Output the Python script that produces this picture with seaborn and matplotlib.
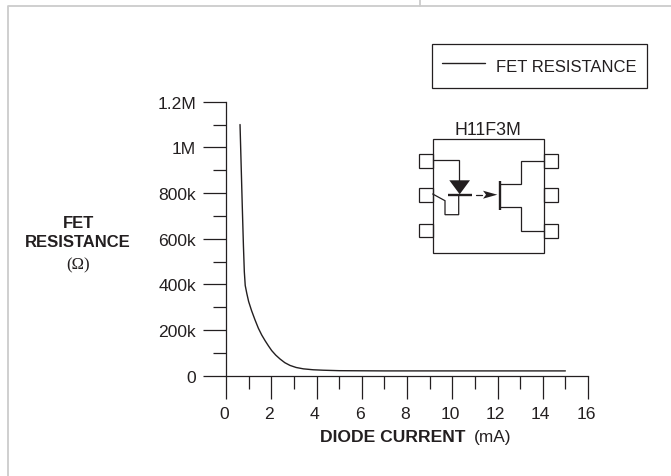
import pandas as pd
import matplotlib.pyplot as plt
import seaborn as sns
from matplotlib.transforms import ScaledTranslation

# values
current_ma = [0.62, 0.67, 0.72, 0.77, 0.81, 0.85, 0.92, 1.00, 1.13, 1.28, 1.43, 1.58, 1.73, 1.88, 2.02, 2.20, 2.39, 2.60, 2.83, 3.10, 3.42, 3.85, 4.30, 5.00, 7.00, 10.00, 13.00, 15.00]
resistance = [1100000, 920000, 740000, 570000, 455000, 395000, 360000, 325000, 285000, 245000, 208000, 178000, 153000, 130000, 110000, 90000, 73000, 57000, 45000, 36000, 30000, 26000, 24000, 22000, 21000, 21000, 21000, 21000]
x_ticks = list(range(0, 17, 2))
x_minor = list(range(1, 16, 2))
y_ticks = [0, 200000, 400000, 600000, 800000, 1000000, 1200000]
y_minor = [100000, 300000, 500000, 700000, 900000, 1100000]
y_labels = ['0', '200k', '400k', '600k', '800k', '1M', '1.2M']

INK = '#231f20'
GREY = '#cccccc'

sns.set_theme(style="white")
plt.rcParams['font.family'] = ['Liberation Sans', 'DejaVu Sans']

fig = plt.figure(figsize=(6.71, 4.77), dpi=100)
W, H = 671, 477

# main axes placed on the pixel box of the plot
ax = fig.add_axes([226 / W, (H - 376.7) / H, (588 - 226) / W, (376.7 - 102.7) / H])
df = pd.DataFrame({'current': current_ma, 'resistance': resistance})
sns.lineplot(data=df, x='current', y='resistance', color=INK, linewidth=1.0,
             label='FET RESISTANCE', ax=ax, estimator=None, sort=False)

ax.set_xlim(0, 16)
ax.set_ylim(0, 1200000)
ax.set_xticks(x_ticks)
ax.set_xticks(x_minor, minor=True)
ax.set_yticks(y_ticks)
ax.set_yticks(y_minor, minor=True)
ax.set_yticklabels(y_labels)
ax.set_xlabel('')
ax.set_ylabel('')
ax.tick_params(which='major', axis='both', direction='out', length=16.5, width=0.9, color=INK,
               labelsize=12.6, labelcolor=INK, bottom=True, left=True)
ax.tick_params(which='minor', axis='both', direction='out', length=9.4, width=0.9, color=INK,
               bottom=True, left=True)
ax.tick_params(axis='x', which='major', pad=5)
ax.tick_params(axis='y', which='major', pad=5)
sns.despine(ax=ax)
for side in ['left', 'bottom']:
    ax.spines[side].set_color(INK)
    ax.spines[side].set_linewidth(0.9)

# x tick labels sit a little left of their ticks in the original
for lab in ax.get_xticklabels():
    lab.set_transform(lab.get_transform() + ScaledTranslation(-2 / 100, 0, fig.dpi_scale_trans))

leg = ax.legend(loc='upper left', bbox_to_anchor=(432 / W, (H - 45) / H), bbox_transform=fig.transFigure,
                fancybox=False, framealpha=1, edgecolor=INK, fontsize=12, labelcolor=INK,
                handlelength=2.6, handleheight=1.82, handletextpad=0.66, borderpad=0.6, borderaxespad=0)
leg.get_frame().set_linewidth(0.9)

# overlay in pixel coordinates for page rules, axis titles and the schematic
ov = fig.add_axes([0, 0, 1, 1], facecolor='none')
ov.set_xlim(0, W)
ov.set_ylim(H, 0)
ov.axis('off')

ov.plot([7.5, 7.5, W], [H, 6.5, 6.5], color=GREY, lw=1.3)
ov.plot([420, 420], [0, 6.5], color=GREY, lw=1.3)

ov.text(320, 438, 'DIODE CURRENT', fontsize=12.6, fontweight='bold', color=INK, ha='left', va='center')
ov.text(474, 438, '(mA)', fontsize=12.4, color=INK, ha='left', va='center')
ov.text(78, 224, 'FET', fontsize=12, fontweight='bold', color=INK, ha='center', va='center')
ov.text(78, 243, 'RESISTANCE', fontsize=12, fontweight='bold', color=INK, ha='center', va='center')
ov.text(78, 265, '(\u03a9)', fontsize=12, color=INK, ha='center', va='center', family='Liberation Serif')

# H11F3M schematic
ov.text(487.7, 130.7, 'H11F3M', fontsize=12.8, color=INK, ha='center', va='center')
rects = [(432.7, 140, 111.6, 114),
         (419.3, 155, 13.4, 13.5), (419.3, 189, 13.4, 13.5), (419.3, 224.5, 13.4, 13.8),
         (544.3, 155, 13.4, 14), (544.3, 189, 13.4, 14), (544.3, 225, 13.4, 14)]
for x, y, w, h in rects:
    ov.add_patch(plt.Rectangle((x, y), w, h, fill=False, edgecolor=INK, lw=0.9))
wires = [
    ([432.7, 458.7, 458.7], [160.7, 160.7, 181.7]),
    ([458.7, 458.7, 445, 445, 432.7], [195.7, 215.7, 215.7, 201.7, 195]),
    ([500.3, 520.7, 520.7, 544.3], [185, 185, 161.7, 161.7]),
    ([500.3, 520.7, 520.7, 544.3], [208.3, 208.3, 231.7, 231.7]),
    ([476, 482], [195.7, 195.7]),
]
for xs, ys in wires:
    ov.plot(xs, ys, color=INK, lw=0.9, solid_joinstyle='miter')
ov.plot([448, 472], [195.7, 195.7], color=INK, lw=1.7, solid_capstyle='butt')
ov.plot([500.3, 500.3], [182.3, 211], color=INK, lw=1.7, solid_capstyle='butt')
ov.add_patch(plt.Polygon([(449.3, 181.3), (470, 181.3), (459.7, 195.3)], color=INK, lw=0))
ov.add_patch(plt.Polygon([(483, 191.7), (497.3, 195.7), (483, 199.7), (486, 195.7)], color=INK, lw=0))

fig.savefig('out.png', dpi=100)
